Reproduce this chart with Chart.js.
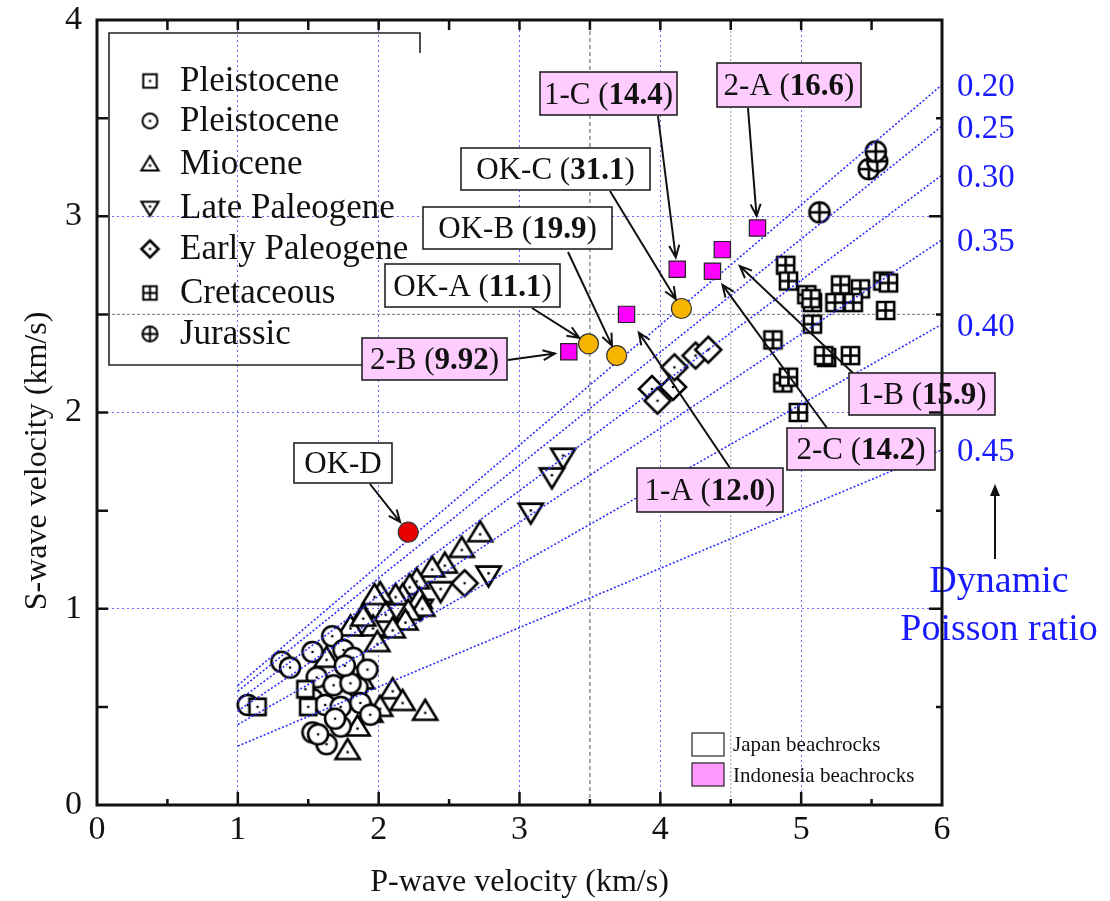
<!DOCTYPE html>
<html>
<head>
<meta charset="utf-8">
<script src="https://cdn.jsdelivr.net/npm/chart.js@4.4.1/dist/chart.umd.min.js"></script>
<style>
  html, body { margin: 0; padding: 0; background: #fff; }
  #caixa { width: 1110px; height: 901px; }
</style>
</head>
<body>
<div id="caixa"><canvas id="grafico"></canvas></div>
<script>
// dados (Vp, Vs em km/s)
const pleistoQuad = [[1.14,0.50],[1.48,0.59],[1.50,0.50]];
const pleistoCirc = [[1.07,0.51],[1.31,0.73],[1.37,0.70],[1.53,0.78],[1.67,0.86],[1.75,0.79],[1.82,0.75],[1.56,0.65],
  [1.68,0.61],[1.53,0.54],[1.62,0.51],[1.73,0.50],[1.85,0.60],[1.92,0.69],[1.53,0.37],[1.63,0.31],[1.73,0.40],
  [1.80,0.62],[1.87,0.52],[1.57,0.36],[1.69,0.44],[1.94,0.46],[1.76,0.71]];
const mioceno = [[2.72,1.39],[2.59,1.31],[2.47,1.23],[2.38,1.21],[2.27,1.15],[2.22,1.12],[2.17,1.07],[2.12,1.07],
  [2.01,1.08],[2.29,1.05],[2.31,1.01],[2.05,0.98],[2.21,0.99],[2.19,0.94],[2.10,0.90],[1.89,0.97],[1.96,0.91],
  [1.80,0.91],[1.99,0.83],[1.63,0.75],[1.82,0.69],[1.88,0.64],[2.10,0.59],[2.17,0.53],[2.33,0.48],[2.01,0.50],
  [1.94,0.47],[1.85,0.40],[1.78,0.28],[1.97,1.07],[1.89,0.96]];
const paleoTardio = [[3.31,1.77],[3.23,1.67],[3.08,1.49],[2.78,1.17],[2.44,1.09],[2.30,1.00]];
const paleoInicial = [[2.61,1.13],[3.94,2.12],[3.98,2.06],[4.09,2.13],[4.10,2.23],[4.25,2.29],[4.34,2.32]];
const cretaceo = [[4.89,2.75],[4.91,2.67],[5.04,2.60],[5.08,2.56],[5.07,2.58],[5.28,2.65],[5.24,2.56],[5.42,2.63],
  [5.37,2.56],[5.58,2.67],[5.62,2.66],[5.60,2.52],[5.08,2.45],[5.18,2.28],[5.16,2.29],[5.35,2.29],[4.80,2.37],
  [4.87,2.15],[4.91,2.18],[4.98,2.00]];
const jurassico = [[5.13,3.02],[5.48,3.24],[5.54,3.28],[5.53,3.33]];

const indoNomes = ['2-B','1-A','1-C','2-C','1-B','2-A'];
const indoVp = [3.35,3.76,4.12,4.37,4.44,4.69];
const indoVs = [2.31,2.50,2.73,2.72,2.83,2.94];
const indoValor = ['9.92','12.0','14.4','14.2','15.9','16.6'];

const okNomes = ['OK-A','OK-B','OK-C','OK-D'];
const okVp = [3.49,3.69,4.15,2.21];
const okVs = [2.35,2.29,2.53,1.39];
const okValor = ['11.1','19.9','31.1',null];

// linhas de razão de Poisson: Vs em Vp=1 e Vp=6
const razaoPoisson = ['0.20','0.25','0.30','0.35','0.40','0.45'];
const vsEmVp1 = [0.61,0.58,0.53,0.48,0.41,0.30];
const vsEmVp6 = [3.67,3.46,3.21,2.88,2.45,1.81];

const ticksX = [0,1,2,3,4,5,6];
const ticksY = [0,1,2,3,4];

const SERIF = '"Liberation Serif", "Times New Roman", serif';
const AZUL = '#1a1aff';

// marcadores desenhados num canvas
function marcador(tipo, tam, cor) {
  const pad = 5;
  const c = document.createElement('canvas');
  c.width = c.height = Math.ceil(tam + pad * 2);
  const g = c.getContext('2d');
  const m = c.width / 2, r = tam / 2;
  g.lineWidth = tam >= 17 ? 2.6 : 2;
  g.strokeStyle = '#000';
  g.fillStyle = cor || '#fff';
  g.beginPath();
  if (tipo === 'quad' || tipo === 'quadMais') g.rect(m - r * 0.9, m - r * 0.9, r * 1.8, r * 1.8);
  else if (tipo === 'circ' || tipo === 'circMais') g.arc(m, m, r, 0, Math.PI * 2);
  else if (tipo === 'tri') { g.moveTo(m, m - r * 1.05); g.lineTo(m + r * 1.15, m + r * 0.85); g.lineTo(m - r * 1.15, m + r * 0.85); g.closePath(); }
  else if (tipo === 'triInv') { g.moveTo(m, m + r * 1.05); g.lineTo(m + r * 1.15, m - r * 0.85); g.lineTo(m - r * 1.15, m - r * 0.85); g.closePath(); }
  else if (tipo === 'losango') { g.moveTo(m, m - r); g.lineTo(m + r, m); g.lineTo(m, m + r); g.lineTo(m - r, m); g.closePath(); }
  g.fill(); g.stroke();
  if (tipo.endsWith('Mais')) {
    const a = tipo === 'quadMais' ? r * 0.9 : r;
    g.beginPath();
    g.moveTo(m - a, m); g.lineTo(m + a, m);
    g.moveTo(m, m - a); g.lineTo(m, m + a);
    g.stroke();
  } else if (!cor) {
    g.fillStyle = '#000';
    g.beginPath();
    g.arc(m, tipo === 'tri' ? m + r * 0.2 : (tipo === 'triInv' ? m - r * 0.2 : m), 1.3, 0, Math.PI * 2);
    g.fill();
  }
  return c;
}

const series = [
  { nome: 'Pleistocene', dados: pleistoQuad, tipo: 'quad', tam: 18 },
  { nome: 'Pleistocene', dados: pleistoCirc, tipo: 'circ', tam: 20 },
  { nome: 'Miocene', dados: mioceno, tipo: 'tri', tam: 21 },
  { nome: 'Late Paleogene', dados: paleoTardio, tipo: 'triInv', tam: 21 },
  { nome: 'Early Paleogene', dados: paleoInicial, tipo: 'losango', tam: 26 },
  { nome: 'Cretaceous', dados: cretaceo, tipo: 'quadMais', tam: 19 },
  { nome: 'Jurassic', dados: jurassico, tipo: 'circMais', tam: 20 }
];

const datasets = [];
series.forEach(s => {
  datasets.push({
    label: s.nome,
    data: s.dados.map(p => ({ x: p[0], y: p[1] })),
    pointStyle: marcador(s.tipo, s.tam),
    legenda: marcador(s.tipo, s.tipo === 'losango' ? 17 : 15),
    order: 20
  });
});

razaoPoisson.forEach((r, i) => {
  datasets.push({
    label: 'ν = ' + r,
    type: 'line',
    data: [{ x: 1, y: vsEmVp1[i] }, { x: 6, y: vsEmVp6[i] }],
    borderColor: '#2c2cff',
    borderWidth: 1.6,
    borderDash: [2, 2],
    pointRadius: 0,
    order: 10
  });
});

// linhas de referência cinza
datasets.push({ type: 'line', data: [{ x: 3.5, y: 0 }, { x: 3.5, y: 4 }], borderColor: '#555', borderWidth: 1, borderDash: [4, 3], pointRadius: 0, order: 30 });
datasets.push({ type: 'line', data: [{ x: 4.5, y: 0 }, { x: 4.5, y: 4 }], borderColor: '#999', borderWidth: 1, borderDash: [2, 2], pointRadius: 0, order: 30 });
datasets.push({ type: 'line', data: [{ x: 0, y: 2.5 }, { x: 6, y: 2.5 }], borderColor: '#777', borderWidth: 1, borderDash: [3, 2], pointRadius: 0, order: 30 });

datasets.push({
  label: 'Indonesia beachrocks',
  data: indoVp.map((v, i) => ({ x: v, y: indoVs[i] })),
  pointStyle: 'rect',
  pointRadius: 11.5,
  backgroundColor: '#ff00ff',
  borderColor: '#222',
  borderWidth: 1.2,
  order: 2
});
datasets.push({
  label: 'OK',
  data: okVp.map((v, i) => ({ x: v, y: okVs[i] })),
  pointStyle: 'circle',
  pointRadius: 10,
  backgroundColor: okNomes.map(n => n === 'OK-D' ? '#e80000' : '#f7b500'),
  borderColor: '#333',
  borderWidth: 1.2,
  order: 1
});

// caixas de rótulo: [esq, topo, dir, base] em px, início da seta, folga antes do ponto
const rotulos = [
  { nome: 'OK-D', serie: 'ok', caixa: [294, 443, 392, 483], de: [370, 484], folga: 13 },
  { nome: '2-B', serie: 'indo', caixa: [362, 338, 507, 380], de: [508, 360], folga: 14 },
  { nome: 'OK-A', serie: 'ok', caixa: [385, 264, 560, 307], de: [532, 308], folga: 11 },
  { nome: 'OK-B', serie: 'ok', caixa: [423, 207, 612, 249], de: [568, 252], folga: 11 },
  { nome: 'OK-C', serie: 'ok', caixa: [461, 148, 650, 190], de: [610, 191], folga: 11 },
  { nome: '1-C', serie: 'indo', caixa: [540, 72, 677, 115], de: [658, 116], folga: 12 },
  { nome: '2-A', serie: 'indo', caixa: [717, 63, 861, 107], de: [748, 108], folga: 12 },
  { nome: '1-A', serie: 'indo', caixa: [637, 468, 783, 512], de: [730, 468], folga: 22 },
  { nome: '2-C', serie: 'indo', caixa: [787, 428, 935, 470], de: [827, 428], folga: 17 },
  { nome: '1-B', serie: 'indo', caixa: [849, 373, 995, 415], de: [853, 373], folga: 24 }
];

function seta(ctx, x1, y1, x2, y2, ponta) {
  const ang = Math.atan2(y2 - y1, x2 - x1);
  ctx.beginPath();
  ctx.moveTo(x1, y1); ctx.lineTo(x2, y2);
  ctx.moveTo(x2 - ponta * Math.cos(ang - 0.4), y2 - ponta * Math.sin(ang - 0.4));
  ctx.lineTo(x2, y2);
  ctx.lineTo(x2 - ponta * Math.cos(ang + 0.4), y2 - ponta * Math.sin(ang + 0.4));
  ctx.stroke();
}

const extras = {
  id: 'extras',
  afterDatasetsDraw(chart) {
    const ctx = chart.ctx;
    const sx = chart.scales.x, sy = chart.scales.y;
    const area = chart.chartArea;
    ctx.save();

    // rótulos e setas
    rotulos.forEach(r => {
      let vp, vs, valor, fundo;
      if (r.serie === 'indo') {
        const i = indoNomes.indexOf(r.nome);
        vp = indoVp[i]; vs = indoVs[i]; valor = indoValor[i]; fundo = '#ffccff';
      } else {
        const i = okNomes.indexOf(r.nome);
        vp = okVp[i]; vs = okVs[i]; valor = okValor[i]; fundo = '#fff';
      }
      const px = sx.getPixelForValue(vp), py = sy.getPixelForValue(vs);
      const [x0, y0] = r.de;
      const d = Math.hypot(px - x0, py - y0);
      const tx = px - (px - x0) / d * r.folga, ty = py - (py - y0) / d * r.folga;
      ctx.strokeStyle = '#111';
      ctx.lineWidth = 2;
      seta(ctx, x0, y0, tx, ty, 13);

      const [a, b, c, e] = r.caixa;
      ctx.fillStyle = fundo;
      ctx.fillRect(a, b, c - a, e - b);
      ctx.lineWidth = 1.6;
      ctx.strokeStyle = '#222';
      ctx.strokeRect(a, b, c - a, e - b);

      const normal = '31px ' + SERIF, negrito = 'bold 31px ' + SERIF;
      const partes = valor ? [[r.nome + ' (', normal], [valor, negrito], [')', normal]] : [[r.nome, normal]];
      let larg = 0;
      partes.forEach(p => { ctx.font = p[1]; larg += ctx.measureText(p[0]).width; });
      let x = (a + c) / 2 - larg / 2;
      ctx.fillStyle = '#111';
      ctx.textBaseline = 'middle';
      ctx.textAlign = 'left';
      partes.forEach(p => { ctx.font = p[1]; ctx.fillText(p[0], x, (b + e) / 2 + 2); x += ctx.measureText(p[0]).width; });
    });

    // legenda principal
    ctx.strokeStyle = '#222';
    ctx.lineWidth = 1.6;
    ctx.beginPath();
    ctx.moveTo(420, 53); ctx.lineTo(420, 33); ctx.lineTo(109, 33); ctx.lineTo(109, 365); ctx.lineTo(362, 365);
    ctx.stroke();
    const linhas = [81, 121, 164, 208, 249, 293, 334];
    ctx.font = '35px ' + SERIF;
    ctx.fillStyle = '#111';
    ctx.textBaseline = 'middle';
    ctx.textAlign = 'left';
    series.forEach((s, i) => {
      const img = chart.data.datasets[i].legenda;
      ctx.drawImage(img, 150 - img.width / 2, linhas[i] - img.height / 2);
      ctx.fillText(s.nome, 180, linhas[i] + 1);
    });

    // legenda pequena
    ctx.lineWidth = 1.2;
    ctx.fillStyle = '#fff';
    ctx.fillRect(692, 733, 32, 23); ctx.strokeRect(692, 733, 32, 23);
    ctx.fillStyle = '#ff99ff';
    ctx.fillRect(692, 763, 32, 23); ctx.strokeRect(692, 763, 32, 23);
    ctx.fillStyle = '#111';
    ctx.font = '21px ' + SERIF;
    ctx.fillText('Japan beachrocks', 733, 745);
    ctx.fillText('Indonesia beachrocks', 733, 776);

    // razões de Poisson à direita
    ctx.fillStyle = AZUL;
    ctx.font = '33px ' + SERIF;
    razaoPoisson.forEach((r, i) => {
      ctx.fillText(r, 957, sy.getPixelForValue(vsEmVp6[i]) + 3);
    });
    ctx.strokeStyle = '#111';
    ctx.lineWidth = 2;
    ctx.fillStyle = '#111';
    ctx.beginPath(); ctx.moveTo(995, 559); ctx.lineTo(995, 492); ctx.stroke();
    ctx.beginPath(); ctx.moveTo(995, 484); ctx.lineTo(990, 496); ctx.lineTo(1000, 496); ctx.closePath(); ctx.fill();
    ctx.fillStyle = AZUL;
    ctx.font = '38px ' + SERIF;
    ctx.textAlign = 'center';
    ctx.fillText('Dynamic', 999, 582);
    ctx.fillText('Poisson ratio', 999, 630);

    // título do eixo y (deslocado para baixo como no original)
    ctx.save();
    ctx.translate(38, 461);
    ctx.rotate(-Math.PI / 2);
    ctx.fillStyle = '#111';
    ctx.font = '32px ' + SERIF;
    ctx.fillText('S-wave velocity (km/s)', 0, 0);
    ctx.restore();

    // moldura e marcas
    ctx.strokeStyle = '#111';
    ctx.lineWidth = 3;
    ctx.strokeRect(area.left, area.top, area.right - area.left, area.bottom - area.top);
    ctx.lineWidth = 2.5;
    ctx.beginPath();
    for (let v = 0.5; v < 6; v += 0.5) {
      const x = sx.getPixelForValue(v);
      const maior = v % 1 === 0;
      ctx.moveTo(x, area.bottom); ctx.lineTo(x, area.bottom - (maior ? 13 : 6));
      ctx.moveTo(x, area.top); ctx.lineTo(x, area.top + 10);
    }
    for (let v = 0.5; v < 4; v += 0.5) {
      const y = sy.getPixelForValue(v);
      const maior = v % 1 === 0;
      ctx.moveTo(area.left, y); ctx.lineTo(area.left + 11, y);
      ctx.moveTo(area.right, y); ctx.lineTo(area.right - (maior ? 13 : 6), y);
    }
    ctx.stroke();
    ctx.restore();
  }
};

const corGrade = ctx => (ctx.tick && (ctx.tick.value === 0 || ctx.tick.value === 6 || ctx.tick.value === 4 && ctx.scale.id === 'y')) ? 'rgba(0,0,0,0)' : '#6a6aff';

new Chart(document.getElementById('grafico'), {
  type: 'scatter',
  data: { datasets },
  options: {
    responsive: true,
    maintainAspectRatio: false,
    animation: false,
    layout: { padding: { left: 0, top: 20, right: 168, bottom: 0 } },
    plugins: { legend: { display: false }, tooltip: { enabled: false } },
    scales: {
      x: {
        type: 'linear', min: 0, max: 6,
        afterBuildTicks: s => { s.ticks = ticksX.map(v => ({ value: v })); },
        afterFit: s => { s.height = 96; s.paddingLeft = 0; s.paddingRight = 0; },
        ticks: { color: '#111', font: { family: SERIF, size: 34 }, padding: 5 },
        grid: { color: corGrade, lineWidth: 1, drawTicks: false },
        border: { display: false, dash: [2, 3] },
        title: { display: true, text: 'P-wave velocity (km/s)', color: '#111', font: { family: SERIF, size: 32, lineHeight: 1 }, padding: { top: 0, bottom: 2 } }
      },
      y: {
        type: 'linear', min: 0, max: 4,
        afterBuildTicks: s => { s.ticks = ticksY.map(v => ({ value: v })); },
        afterFit: s => { s.width = 97; s.paddingTop = 0; s.paddingBottom = 0; },
        ticks: { color: '#111', font: { family: SERIF, size: 34 }, padding: 15 },
        grid: { color: corGrade, lineWidth: 1, drawTicks: false },
        border: { display: false, dash: [2, 3] },
        title: { display: false }
      }
    }
  },
  plugins: [extras]
});
</script>
</body>
</html>
